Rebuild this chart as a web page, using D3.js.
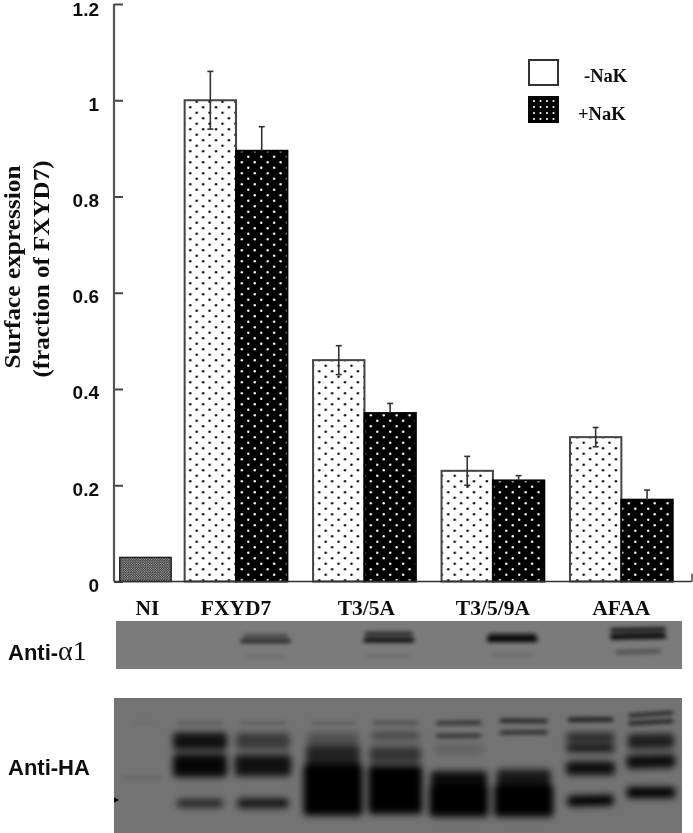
<!DOCTYPE html>
<html>
<head>
<meta charset="utf-8">
<script src="https://cdn.jsdelivr.net/npm/d3@7"></script>
<style>
html,body{margin:0;padding:0;background:#fff;overflow:hidden}
svg{display:block}
.sans{font-family:"Liberation Sans",Arial,sans-serif;font-weight:700}
.serif{font-family:"Liberation Serif","Times New Roman",serif;font-weight:700}
</style>
</head>
<body>
<svg id="c" width="693" height="833"></svg>
<script>
// ---- chart data ----
const categories = ["NI", "FXYD7", "T3/5A", "T3/5/9A", "AFAA"];
const seriesNames = ["-NaK", "+NaK"];
const niValue = 0.05;
const minusNaK = [1.0, 0.46, 0.23, 0.30];
const plusNaK = [0.895, 0.35, 0.21, 0.17];
const minusErr = [0.06, 0.03, 0.03, 0.02];
const plusErr = [0.05, 0.02, 0.01, 0.02];
const yTicks = [0, 0.2, 0.4, 0.6, 0.8, 1, 1.2];
const yTitle = ["Surface expression", "(fraction of FXYD7)"];
const blotLabels = ["Anti-HA"];

// ---- blot data: [lane, position %, thickness %, width, darkness, tilt] ----
const alphaLanes = [1.18, 2.14, 3.10, 4.08];
const alphaBands = [
  [0,31,7,.36,.5,0],[0,42,7,.40,.85,0],[0,75,4,.34,.2,0],
  [1,27,9,.38,.7,0],[1,40,9,.40,1,0],[1,73,4,.36,.25,0],
  [2,30,8,.38,.8,0],[2,39,10,.40,1,0],[2,70,4,.36,.28,0],
  [3,18,8,.44,.9,-1],[3,32,11,.44,1,-1],[3,64,6,.36,.5,-1.5]
];
const haLanes = [0.22, 0.67, 1.16, 1.705, 2.19, 2.685, 3.19, 3.71, 4.18];
const haBands = [
  [0,59,2,.32,.14,0],[0,18.5,1.5,.16,.1,0],
  [1,18.5,2,.36,.25,0],[1,32,13,.42,.85,0],[1,50,17,.42,.95,0],[1,78,6,.36,.7,0],
  [2,18.5,2,.36,.25,0],[2,32,12,.42,.5,0],[2,50,16,.44,.85,0],[2,78,7,.40,.85,0],
  [3,18.5,2,.36,.25,0],[3,30,9,.40,.3,0],[3,43,16,.42,.7,0],[3,68,38,.46,1,0],
  [4,18.5,2.5,.36,.35,0],[4,28,5,.38,.45,0],[4,42,12,.40,.55,0],[4,68,36,.42,1,0],
  [5,18.5,2.5,.36,.7,-.5],[5,28,2.5,.36,.7,-.5],[5,38,8,.38,.15,0],[5,62,16,.44,.9,0],[5,76,24,.46,1,0],
  [6,17,2.5,.38,.85,.5],[6,25.5,2.5,.38,.75,-.5],[6,60,14,.42,.8,0],[6,76,24,.46,1,0],
  [7,16,3,.36,.85,-.5],[7,29,6,.38,.7,0],[7,37,6,.38,.85,0],[7,52,10,.38,.9,0],[7,76,8,.36,1,-1.5],
  [8,12,2.5,.36,.8,-4],[8,18,2.5,.36,.85,-3],[8,32,11,.36,.75,-1],[8,47,10,.38,.9,-1.5],[8,70,8,.38,1,0]
];

// ---- scales ----
const svg = d3.select("#c");
const x = d3.scaleLinear().domain([0, 4.5]).range([114, 692]);
const y = d3.scaleLinear().domain([0, 1.2]).range([581.5, 4]);
const groupCentre = i => x(i - 0.05 + 1);
const barW = x(0.4) - x(0);
const inner = d3.scaleBand().domain(seriesNames).range([-barW, barW]);

// ---- defs ----
const defs = svg.append("defs");
function dotPattern(id, bg, fg, w, h, r) {
  const p = defs.append("pattern").attr("id", id).attr("patternUnits", "userSpaceOnUse")
    .attr("width", w).attr("height", h);
  p.append("rect").attr("width", w).attr("height", h).attr("fill", bg);
  [[w / 4, h / 4], [w * 3 / 4, h * 3 / 4]].forEach(c =>
    p.append("circle").attr("cx", c[0]).attr("cy", c[1]).attr("r", r).attr("fill", fg));
}
dotPattern("pMinus", "#fff", "#000", 12.9, 11, 1.2);
dotPattern("pPlus", "#000", "#fff", 12.9, 11, 1.2);
dotPattern("pNI", "#2e2e2e", "#bbb", 2.4, 2.4, 0.62);
function blurFilter(id, sd) {
  defs.append("filter").attr("id", id).attr("filterUnits", "userSpaceOnUse")
    .attr("x", 0).attr("y", 0).attr("width", 693).attr("height", 833)
    .append("feGaussianBlur").attr("stdDeviation", sd);
}
blurFilter("blurThick", 3.6);
blurFilter("blurThin", 2);
blurFilter("soft", 0.4);

// ---- bars ----
const chart = svg.append("g").attr("filter", "url(#soft)");
chart.append("rect").attr("x", x(0.245) - barW / 2).attr("width", barW)
  .attr("y", y(niValue)).attr("height", y(0) - y(niValue))
  .attr("fill", "url(#pNI)").attr("stroke", "#222").attr("stroke-width", 1.5);

[[minusNaK, minusErr, "pMinus", "#444"], [plusNaK, plusErr, "pPlus", "#000"]].forEach((s, k) => {
  const name = seriesNames[k];
  const g = chart.append("g");
  const cx = i => groupCentre(i) + inner(name) + inner.bandwidth() / 2;
  g.selectAll("rect").data(s[0]).join("rect")
    .attr("x", (d, i) => groupCentre(i) + inner(name))
    .attr("width", inner.bandwidth())
    .attr("y", d => y(d))
    .attr("height", d => y(0) - y(d))
    .attr("fill", `url(#${s[2]})`)
    .attr("stroke", s[3]).attr("stroke-width", 2);
  const eb = chart.append("g").attr("stroke", "#333").attr("stroke-width", 1.6).attr("fill", "none");
  s[0].forEach((v, i) => {
    const e = s[1][i], hi = y(v + e), lo = y(k === 0 ? v - e : v);
    eb.append("line").attr("x1", cx(i)).attr("x2", cx(i)).attr("y1", hi).attr("y2", lo);
    eb.append("line").attr("x1", cx(i) - 3).attr("x2", cx(i) + 3).attr("y1", hi).attr("y2", hi);
    if (k === 0) eb.append("line").attr("x1", cx(i) - 3).attr("x2", cx(i) + 3).attr("y1", lo).attr("y2", lo);
  });
});

// ---- axes ----
const yAxis = d3.axisLeft(y).tickValues(yTicks).tickSize(-9).tickPadding(15).tickFormat(d => String(d));
const ya = chart.append("g").attr("transform", `translate(${x(0)},0)`).call(yAxis);
ya.selectAll("path,line").attr("stroke", "#444").attr("stroke-width", 2);
ya.selectAll("text").attr("class", "sans").attr("font-size", 19).attr("fill", "#111").attr("dy", "0.68em")
  .attr("y", d => d === 1.2 ? -1 : -3);
ya.select(".domain").remove();
chart.append("line").attr("x1", x(0)).attr("x2", x(0)).attr("y1", y(1.2)).attr("y2", y(0)).attr("stroke", "#555").attr("stroke-width", 2.2);
chart.append("line").attr("x1", x(0)).attr("x2", x(4.5)).attr("y1", y(0)).attr("y2", y(0)).attr("stroke", "#333").attr("stroke-width", 1.6);
chart.append("line").attr("x1", x(4.5)).attr("x2", x(4.5)).attr("y1", y(0)).attr("y2", y(0.016)).attr("stroke", "#555").attr("stroke-width", 1.6);

// ---- y title ----
const titleSpan = [203, 217];
yTitle.forEach((t, i) => {
  chart.append("text").attr("class", "serif").attr("font-size", 24).attr("fill", "#111")
    .attr("text-anchor", "middle")
    .attr("textLength", titleSpan[i]).attr("lengthAdjust", "spacingAndGlyphs")
    .attr("transform", `translate(${i === 0 ? 20 : 49},${i === 0 ? 267 : 269}) rotate(-90)`)
    .text(t);
});

// ---- category labels ----
chart.selectAll("text.cat").data(categories).join("text")
  .attr("class", "cat serif").attr("font-size", 21.5).attr("fill", "#111")
  .attr("text-anchor", "middle").attr("y", 615)
  .attr("x", (d, i) => i === 0 ? x(0.26) : groupCentre(i - 1) + (i === 2 ? 2 : 0))
  .text(d => d);

// ---- legend ----
const legY = [60, 97];
seriesNames.forEach((n, i) => {
  chart.append("rect").attr("x", 529).attr("y", legY[i]).attr("width", 29).attr("height", 25)
    .attr("fill", i === 0 ? "#fff" : "#000").attr("stroke", i === 0 ? "#333" : "#000").attr("stroke-width", 2);
  if (i === 1) {
    d3.range(4).forEach(c => d3.range(4).forEach(r => {
      chart.append("circle").attr("cx", 534 + c * 6.5).attr("cy", legY[i] + 4 + r * 6)
        .attr("r", 1.05).attr("fill", "#fff");
    }));
  }
  chart.append("text").attr("class", "serif").attr("font-size", 18.5).attr("fill", "#111")
    .attr("x", i === 0 ? 584 : 578).attr("y", legY[i] + 22 + i).text(n);
});

// ---- blots ----
function blot(id, x0, x1, top, bottom, bg, lanes, bands) {
  const yb = d3.scaleLinear().domain([0, 100]).range([top, bottom]);
  const unit = x(1) - x(0);
  defs.append("clipPath").attr("id", id).append("rect")
    .attr("x", x0).attr("y", top).attr("width", x1 - x0).attr("height", bottom - top);
  const g = svg.append("g").attr("clip-path", `url(#${id})`);
  g.append("rect").attr("x", x0).attr("y", top).attr("width", x1 - x0).attr("height", bottom - top).attr("fill", bg);
  const thinLimit = (bottom - top) > 100 ? 4 : 100;
  [["blurThick", bands.filter(d => d[2] >= thinLimit)], ["blurThin", bands.filter(d => d[2] < thinLimit)]].forEach(p => {
    const f = g.append("g").attr("filter", `url(#${p[0]})`);
    f.selectAll("rect").data(p[1]).join("rect")
      .attr("x", d => x(lanes[d[0]]) - d[3] * unit / 2)
      .attr("width", d => d[3] * unit)
      .attr("y", d => yb(d[1] - d[2] / 2))
      .attr("height", d => yb(d[2]) - top)
      .attr("rx", 4)
      .attr("fill", "#000").attr("fill-opacity", d => d[4])
      .attr("transform", d => `rotate(${d[5]},${x(lanes[d[0]])},${yb(d[1])})`);
  });
}
blot("clipA", 116, 682, 621, 669, "#7b7b7b", alphaLanes, alphaBands);
blot("clipH", 114, 682, 698, 833, "#737373", haLanes, haBands);

// marker arrow on the HA blot
svg.append("path").attr("fill", "#000")
  .attr("d", d3.line()([[x(0), 797.5], [x(0) + 5, 800], [x(0), 802.5]]));

// ---- blot labels ----
const lab = svg.append("g").attr("filter", "url(#soft)");
const a = lab.append("text").attr("class", "sans").attr("font-size", 22).attr("fill", "#111").attr("x", 8).attr("y", 660);
a.append("tspan").text("Anti-");
a.append("tspan").attr("font-family", "'Liberation Serif',serif").attr("font-weight", 400).attr("font-size", 28).text("α1");
lab.append("text").attr("class", "sans").attr("font-size", 22).attr("fill", "#111").attr("x", 8).attr("y", 775).text(blotLabels[0]);
</script>
</body>
</html>
